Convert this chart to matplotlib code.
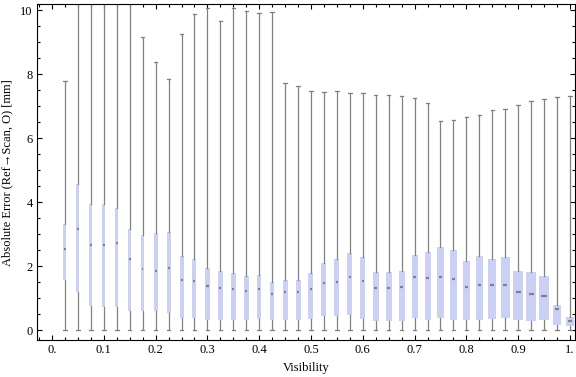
import numpy as np
import matplotlib
matplotlib.use('Agg')
import matplotlib.pyplot as plt
from matplotlib.ticker import MultipleLocator, FixedLocator, FixedFormatter

plt.rcParams['font.family'] = ['Liberation Serif', 'DejaVu Serif']

# visibility bins (box positions)
visibility = [0.025, 0.05, 0.075, 0.1, 0.125, 0.15, 0.175, 0.2, 0.225, 0.25,
              0.275, 0.3, 0.325, 0.35, 0.375, 0.4, 0.425, 0.45, 0.475, 0.5,
              0.525, 0.55, 0.575, 0.6, 0.625, 0.65, 0.675, 0.7, 0.725, 0.75,
              0.775, 0.8, 0.825, 0.85, 0.875, 0.9, 0.925, 0.95, 0.975, 1.0]

# box statistics [mm]
whisker_hi = [7.78, 11.5, 12.0, 11.0, 11.8, 10.9, 9.18, 8.40, 7.87, 9.25,
              9.90, 10.08, 9.67, 10.08, 9.98, 9.93, 9.95, 7.74, 7.64, 7.49,
              7.46, 7.49, 7.43, 7.43, 7.36, 7.36, 7.32, 7.26, 7.10, 6.55,
              6.58, 6.67, 6.74, 6.90, 6.93, 7.05, 7.18, 7.22, 7.30, 7.33]
q3 = [3.34, 4.56, 3.94, 3.94, 3.83, 3.18, 2.99, 3.03, 3.09, 2.34,
      2.22, 1.96, 1.87, 1.78, 1.69, 1.72, 1.50, 1.56, 1.59, 1.78,
      2.12, 2.22, 2.43, 2.28, 1.84, 1.84, 1.87, 2.37, 2.44, 2.60,
      2.50, 2.16, 2.31, 2.22, 2.28, 1.87, 1.81, 1.69, 0.78, 0.43]
median = [2.55, 3.16, 2.67, 2.68, 2.72, 2.22, 1.93, 1.86, 1.94, 1.59,
          1.53, 1.38, 1.34, 1.28, 1.22, 1.29, 1.15, 1.19, 1.20, 1.29,
          1.49, 1.52, 1.67, 1.55, 1.32, 1.34, 1.37, 1.66, 1.65, 1.68,
          1.60, 1.37, 1.43, 1.41, 1.43, 1.20, 1.15, 1.08, 0.67, 0.30]
q1 = [1.59, 1.20, 0.76, 0.74, 0.73, 0.62, 0.60, 0.60, 0.53, 0.375,
      0.375, 0.34, 0.34, 0.34, 0.32, 0.35, 0.34, 0.32, 0.31, 0.35,
      0.44, 0.44, 0.48, 0.35, 0.28, 0.28, 0.28, 0.375, 0.34, 0.38,
      0.34, 0.32, 0.32, 0.35, 0.38, 0.32, 0.29, 0.32, 0.17, 0.13]
whisker_lo = [0.02, 0.02, 0.02, 0.02, 0.02, 0.02, 0.02, 0.02, 0.02, 0.02,
              0.02, 0.02, 0.02, 0.02, 0.02, 0.02, 0.02, 0.02, 0.02, 0.02,
              0.02, 0.02, 0.02, 0.02, 0.02, 0.02, 0.02, 0.02, 0.02, 0.02,
              0.02, 0.02, 0.02, 0.02, 0.02, 0.02, 0.02, 0.02, 0.02, 0.02]

tick_values = [0.0, 0.1, 0.2, 0.3, 0.4, 0.5, 0.6, 0.7, 0.8, 0.9, 1.0]
tick_labels = ['0.', '0.1', '0.2', '0.3', '0.4', '0.5', '0.6', '0.7', '0.8', '0.9', '1.']

# box widths in pixels (boxes get wider to the right)
box_px = [3, 3, 3, 3, 3, 3, 3, 4, 4, 4,
          4, 4.5, 4.5, 4.5, 4.5, 4.5, 4.5, 5, 5, 5,
          5, 5, 5, 5, 6, 6, 6, 6, 6, 7,
          7, 7, 7, 8, 9, 10, 10, 10.5, 8, 8]

fig = plt.figure(figsize=(5.76, 3.77), dpi=100)
ax = fig.add_axes([37 / 576, 37 / 377, 538 / 576, 335.7 / 377])

x_lo, x_hi = -0.029, 1.0097
px = (x_hi - x_lo) / 538.0
widths = np.array(box_px) * px

stats = []
for i in range(len(visibility)):
    stats.append(dict(med=median[i], q1=q1[i], q3=q3[i],
                      whislo=whisker_lo[i], whishi=whisker_hi[i], fliers=[]))

gray = '#808080'
ax.bxp(stats, positions=visibility, widths=widths, capwidths=3.5 * px,
       patch_artist=True, showfliers=False, manage_ticks=False,
       boxprops=dict(facecolor='#cbd1f4', edgecolor='none', linewidth=0),
       whiskerprops=dict(color=gray, linewidth=0.9),
       capprops=dict(color=gray, linewidth=0.9),
       medianprops=dict(visible=False))

# short median marks
pos = np.array(visibility)
half = np.maximum(widths * 0.25, 0.8 * px)
ax.hlines(median, pos - half, pos + half, color='#80808e', linewidth=1.6, zorder=4)

ax.set_xlim(x_lo, x_hi)
ax.set_ylim(-0.3, 10.19)

ax.xaxis.set_major_locator(FixedLocator(tick_values))
ax.xaxis.set_major_formatter(FixedFormatter(tick_labels))
ax.xaxis.set_minor_locator(MultipleLocator(0.025))
ax.yaxis.set_major_locator(MultipleLocator(2))
ax.yaxis.set_minor_locator(MultipleLocator(0.5))

ax.tick_params(which='both', direction='in', top=True, right=True,
               width=0.8, labelsize=9, colors='black', pad=3)
ax.tick_params(which='major', length=3.5)
ax.tick_params(which='minor', length=2)
for s in ax.spines.values():
    s.set_linewidth(0.8)

ax.set_xlabel('Visibility', fontsize=9)
ax.set_ylabel('Absolute Error (Ref\u2192Scan, O) [mm]', fontsize=9)
ax.xaxis.set_label_coords(0.5, -0.065)
ax.yaxis.set_label_coords(-0.045, 0.5)

fig.savefig('out.png', dpi=100)
